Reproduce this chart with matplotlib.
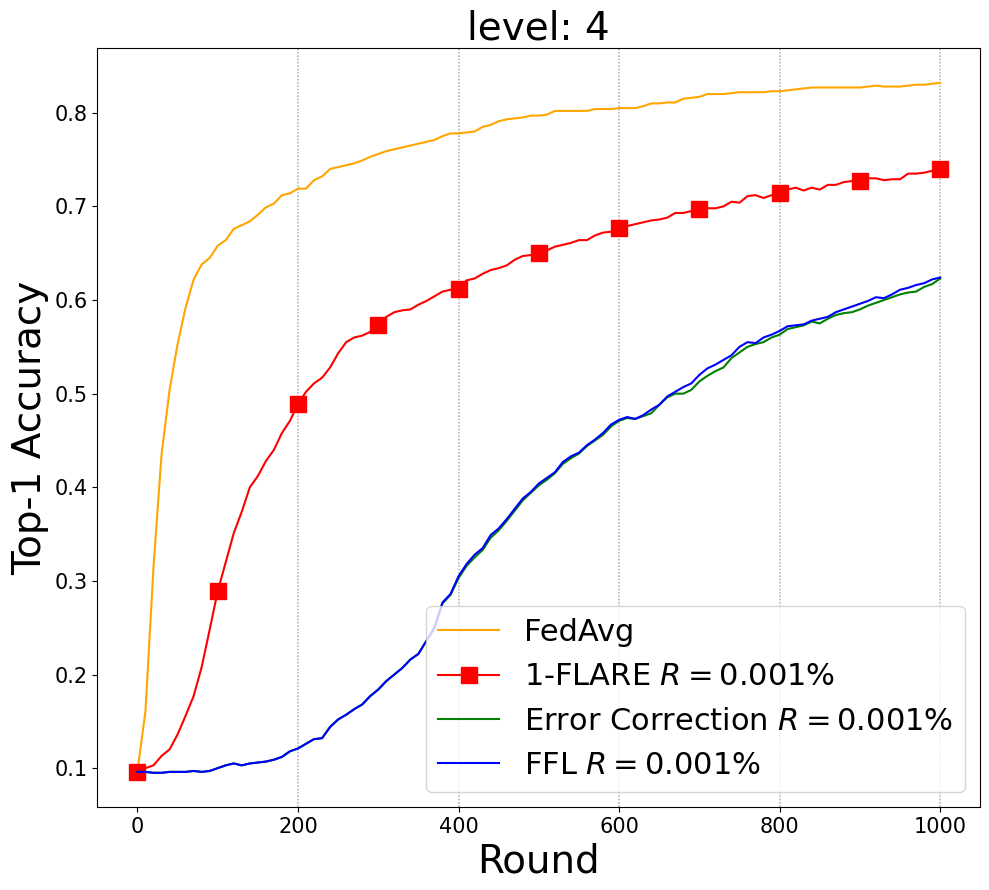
import matplotlib
matplotlib.use("Agg")
import matplotlib.pyplot as plt
import numpy as np

rounds = list(range(0, 1001, 10))
vlines_at = [200, 400, 600, 800, 1000]

fedavg = [0.097, 0.161, 0.315, 0.435, 0.504, 0.553, 0.592, 0.622, 0.638, 0.645,
          0.658, 0.664, 0.676, 0.680, 0.684, 0.691, 0.699, 0.703, 0.712, 0.714,
          0.719, 0.719, 0.728, 0.732, 0.740, 0.742, 0.744, 0.746, 0.749, 0.753,
          0.756, 0.759, 0.761, 0.763, 0.765, 0.767, 0.769, 0.771, 0.775, 0.778,
          0.778, 0.779, 0.780, 0.785, 0.787, 0.791, 0.793, 0.794, 0.795, 0.797,
          0.797, 0.798, 0.802, 0.802, 0.802, 0.802, 0.802, 0.804, 0.804, 0.804,
          0.805, 0.805, 0.805, 0.807, 0.810, 0.810, 0.811, 0.811, 0.815, 0.816,
          0.817, 0.820, 0.820, 0.820, 0.821, 0.822, 0.822, 0.822, 0.822, 0.823,
          0.823, 0.824, 0.825, 0.826, 0.827, 0.827, 0.827, 0.827, 0.827, 0.827,
          0.827, 0.828, 0.829, 0.828, 0.828, 0.828, 0.829, 0.830, 0.830, 0.831,
          0.832]

flare = [0.096, 0.100, 0.103, 0.113, 0.120, 0.136, 0.156, 0.177, 0.208, 0.248,
         0.289, 0.320, 0.351, 0.374, 0.400, 0.412, 0.428, 0.440, 0.458, 0.471,
         0.489, 0.502, 0.511, 0.517, 0.528, 0.543, 0.555, 0.560, 0.562, 0.566,
         0.573, 0.582, 0.587, 0.589, 0.590, 0.595, 0.599, 0.604, 0.609, 0.611,
         0.612, 0.621, 0.623, 0.628, 0.632, 0.634, 0.637, 0.643, 0.647, 0.648,
         0.650, 0.653, 0.657, 0.659, 0.661, 0.664, 0.664, 0.669, 0.672, 0.673,
         0.677, 0.679, 0.681, 0.683, 0.685, 0.686, 0.688, 0.693, 0.693, 0.695,
         0.697, 0.698, 0.698, 0.700, 0.705, 0.704, 0.711, 0.712, 0.709, 0.712,
         0.714, 0.718, 0.720, 0.717, 0.720, 0.718, 0.723, 0.723, 0.726, 0.727,
         0.727, 0.730, 0.730, 0.728, 0.729, 0.729, 0.735, 0.735, 0.736, 0.738,
         0.740]

error_corr = [0.096, 0.096, 0.095, 0.095, 0.096, 0.096, 0.096, 0.097, 0.096, 0.097,
              0.100, 0.103, 0.105, 0.103, 0.105, 0.106, 0.107, 0.109, 0.112, 0.118,
              0.121, 0.126, 0.131, 0.132, 0.144, 0.152, 0.157, 0.163, 0.168, 0.177,
              0.184, 0.193, 0.200, 0.207, 0.216, 0.222, 0.236, 0.250, 0.276, 0.285,
              0.303, 0.316, 0.325, 0.333, 0.346, 0.354, 0.364, 0.375, 0.386, 0.394,
              0.402, 0.408, 0.415, 0.425, 0.431, 0.436, 0.444, 0.450, 0.456, 0.465,
              0.471, 0.474, 0.473, 0.476, 0.479, 0.488, 0.496, 0.500, 0.500, 0.504,
              0.513, 0.519, 0.524, 0.528, 0.538, 0.544, 0.550, 0.553, 0.555, 0.560,
              0.563, 0.569, 0.571, 0.573, 0.577, 0.575, 0.580, 0.584, 0.586, 0.587,
              0.590, 0.594, 0.597, 0.600, 0.603, 0.606, 0.608, 0.609, 0.614, 0.617,
              0.623]

ffl = [0.096, 0.096, 0.095, 0.095, 0.096, 0.096, 0.096, 0.097, 0.096, 0.097,
       0.100, 0.103, 0.105, 0.103, 0.105, 0.106, 0.107, 0.109, 0.112, 0.118,
       0.121, 0.126, 0.131, 0.132, 0.144, 0.152, 0.157, 0.163, 0.168, 0.177,
       0.184, 0.193, 0.200, 0.207, 0.216, 0.222, 0.236, 0.250, 0.277, 0.286,
       0.305, 0.318, 0.328, 0.335, 0.349, 0.356, 0.366, 0.377, 0.388, 0.395,
       0.404, 0.410, 0.416, 0.427, 0.433, 0.437, 0.445, 0.451, 0.458, 0.467,
       0.472, 0.475, 0.473, 0.477, 0.483, 0.488, 0.497, 0.502, 0.507, 0.511,
       0.520, 0.527, 0.531, 0.536, 0.541, 0.550, 0.555, 0.554, 0.560, 0.563,
       0.567, 0.572, 0.573, 0.574, 0.578, 0.580, 0.582, 0.587, 0.590, 0.593,
       0.596, 0.599, 0.603, 0.602, 0.606, 0.611, 0.613, 0.616, 0.618, 0.622,
       0.624]

fig = plt.figure(figsize=(9.89, 8.9), dpi=100)
ax = fig.add_axes([0.0984, 0.0929, 0.8928, 0.8528])

for xv in vlines_at:
    ax.axvline(xv, color="gray", linestyle=(0, (1, 1)), linewidth=1.2, alpha=0.55, zorder=0)

ax.plot(rounds, fedavg, color="orange", lw=1.5, label="FedAvg")
ax.plot(rounds, flare, color="red", lw=1.5, marker="s", markersize=11,
        markevery=10, label="1-FLARE $R=0.001\\%$")
ax.plot(rounds, error_corr, color="green", lw=1.5, label="Error Correction $R=0.001\\%$")
ax.plot(rounds, ffl, color="blue", lw=1.5, label="FFL $R=0.001\\%$")

ax.set_title("level: 4", fontsize=28)
ax.set_xlabel("Round", fontsize=28)
ax.set_ylabel("Top-1 Accuracy", fontsize=28)
ax.tick_params(labelsize=15)
ax.legend(loc="lower right", fontsize=22)

fig.savefig("out.png", dpi=100)
